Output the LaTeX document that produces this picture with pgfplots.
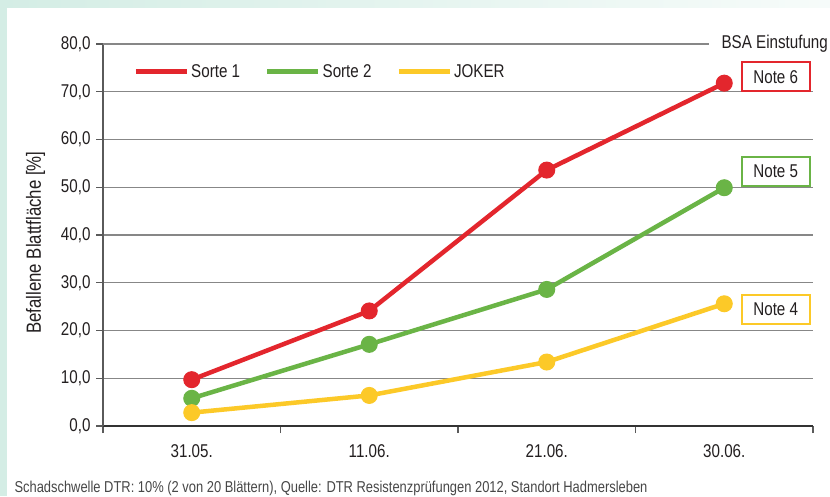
\documentclass[border=0pt]{standalone}
\usepackage{fontspec}
\setmainfont{Liberation Sans}[FakeStretch=0.82]
\usepackage{pgfplots}
\pgfplotsset{compat=1.18}
\definecolor{cred}{RGB}{227,38,45}
\definecolor{cgreen}{RGB}{106,180,70}
\definecolor{cyellow}{RGB}{252,201,40}
\definecolor{mint}{RGB}{212,237,229}
\definecolor{txt}{RGB}{35,31,32}
\definecolor{gridc}{RGB}{135,135,135}
\definecolor{axc}{RGB}{90,90,90}
\begin{document}
\begin{tikzpicture}
\useasboundingbox (0,0) rectangle (830pt,496pt);
\fill[mint] (0,0) rectangle (830pt,496pt);
\shade[left color=mint, right color=mint!20!white] (0,488pt) rectangle (830pt,496pt);
\fill[white] (7pt,0) rectangle (830pt,488pt);
\begin{axis}[
  at={(103pt,70pt)}, anchor=south west, scale only axis,
  width=710pt, height=382pt,
  xmin=-0.5, xmax=3.5, ymin=0, ymax=80,
  clip=false,
  axis x line*=bottom, axis y line*=left,
  axis line style={axc, line width=1.2pt},
  x axis line style={black!80},
  xtick={-0.5,0.5,1.5,2.5,3.5},
  x tick label as interval,
  xticklabels={31.05.,11.06.,21.06.,30.06.},
  ytick={0,10,...,70},
  extra y ticks={80},
  extra y tick style={grid=none},
  ymajorgrids,
  grid style={gridc, line width=1.2pt},
  tick align=outside,
  major tick length=7pt,
  tick style={axc, line width=1.2pt},
  tick label style={font=\fontsize{18.5}{20}\selectfont, text=txt},
  y tick label style={xshift=-2pt, /pgf/number format/.cd, fixed, fixed zerofill, precision=1, use comma, assume math mode=true, /tikz/.cd},
  xticklabel style={yshift=-8pt},
  ylabel={Befallene Blattfläche [\%]},
  y label style={at={(axis description cs:-0.095,0.48)}, anchor=center, font=\fontsize{20.5}{22}\selectfont, text=txt},
  legend style={at={(0.043,0.9275)}, anchor=west, draw=none, fill=none, legend columns=3,
    font=\fontsize{18.5}{20}\selectfont, text=txt, inner sep=0pt,
    /tikz/every even column/.append style={column sep=23pt}},
  legend image code/.code={\draw[line width=4pt] (0pt,0pt) -- (47pt,0pt); \path (0pt,0pt) -- (51pt,0pt);},
]
\draw[gridc, line width=1.2pt] (axis cs:-0.5,80) -- (axis cs:2.914,80);
\addplot[cred, line width=4.5pt, mark=*, mark size=8pt, mark options={line width=1pt, fill=cred}]
  coordinates {(0,9.7) (1,24.1) (2,53.6) (3,71.8)};
\addlegendentry{Sorte 1}
\addplot[cgreen, line width=4.5pt, mark=*, mark size=8pt, mark options={line width=1pt, fill=cgreen}]
  coordinates {(0,5.8) (1,17.1) (2,28.6) (3,49.9)};
\addlegendentry{Sorte 2}
\addplot[cyellow, line width=4.5pt, mark=*, mark size=8pt, mark options={line width=1pt, fill=cyellow}]
  coordinates {(0,2.8) (1,6.4) (2,13.4) (3,25.6)};
\addlegendentry{JOKER}
\node[anchor=west, font=\fontsize{18.5}{20}\selectfont, text=txt] at (axis cs:2.965,80) {BSA Einstufung};
\node[draw=cred, line width=2pt, fill=white, minimum width=68pt, minimum height=29pt, font=\fontsize{18.5}{20}\selectfont, text=txt] at (axis cs:3.29,73.1) {Note 6};
\node[draw=cgreen, line width=2pt, fill=white, minimum width=68pt, minimum height=29pt, font=\fontsize{18.5}{20}\selectfont, text=txt] at (axis cs:3.29,53.3) {Note 5};
\node[draw=cyellow, line width=2pt, fill=white, minimum width=68pt, minimum height=29pt, font=\fontsize{18.5}{20}\selectfont, text=txt] at (axis cs:3.29,24.4) {Note 4};
\end{axis}
\node[anchor=base west, font=\fontsize{15.75}{17}\selectfont, text=black!72] at (11pt,4pt) {Schadschwelle DTR: 10\% (2 von 20 Blättern), Quelle: DTR Resistenzprüfungen 2012, Standort Hadmersleben};
\end{tikzpicture}
\end{document}
